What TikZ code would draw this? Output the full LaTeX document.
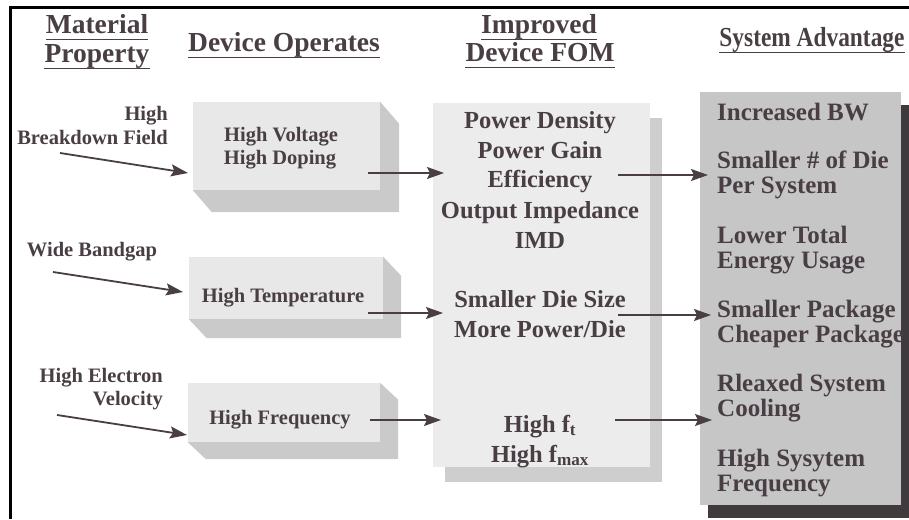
\documentclass[tikz,border=0pt]{standalone}
\usepackage{fontspec}
\setmainfont{Liberation Serif}
\usepackage{graphicx}
\usetikzlibrary{arrows.meta,shadows}
\definecolor{ink}{RGB}{72,62,68}
\definecolor{boxfront}{RGB}{232,232,232}
\definecolor{boxside}{RGB}{202,202,202}
\definecolor{midfront}{RGB}{236,236,236}
\definecolor{midshadow}{RGB}{206,206,206}
\definecolor{rightfront}{RGB}{198,198,198}
\definecolor{rightshadow}{RGB}{62,58,62}
\begin{document}
\begin{tikzpicture}[x=1pt,y=-1pt,
  hdr/.style={inner sep=0pt, anchor=base, text=ink, font=\fontsize{27.5}{30}\selectfont\bfseries},
  lbl/.style={inner sep=0pt, text=ink, font=\fontsize{20.5}{23}\selectfont\bfseries},
  big/.style={inner sep=0pt, text=ink, font=\fontsize{24.5}{28}\selectfont\bfseries},
  rtx/.style={inner sep=0pt, text=ink, anchor=base west, font=\fontsize{25}{28}\selectfont\bfseries},
  uline/.style={draw=ink, line width=1.4pt},
  arr/.style={draw=ink, line width=1.8pt, -{Stealth[length=17pt,width=12pt,inset=3pt]}},
  face/.style={draw=none, inner sep=0pt, fill=boxfront},
  side/.style={fill=boxside},
]
\useasboundingbox (0,0) rectangle (909,519);
% frame
\fill[black] (9,6) rectangle (909,9);
\fill[black] (9,6) rectangle (12,519);

% 3D boxes (left column)
\node[face, minimum width=187pt, minimum height=88pt] (b1) at (286.5,146) {};
\fill[side] (b1.north east) -- ++(19,22) -- ([shift={(19,22)}]b1.south east) -- ([shift={(19,22)}]b1.south west) -- (b1.south west) -- (b1.south east) -- cycle;
\node[face, minimum width=194pt, minimum height=62pt] (b2) at (286,288) {};
\fill[side] (b2.north east) -- ++(18,19) -- ([shift={(18,19)}]b2.south east) -- ([shift={(18,19)}]b2.south west) -- (b2.south west) -- (b2.south east) -- cycle;
\node[face, minimum width=192pt, minimum height=59pt] (b3) at (284,412.5) {};
\fill[side] (b3.north east) -- ++(18,17) -- ([shift={(18,17)}]b3.south east) -- ([shift={(18,17)}]b3.south west) -- (b3.south west) -- (b3.south east) -- cycle;

% middle box
\node[draw=none, inner sep=0pt, fill=midfront, minimum width=217pt, minimum height=364pt,
  general shadow={fill=midshadow, shadow xshift=12pt, shadow yshift=-15pt}] (mid) at (541.5,285) {};
% right box
\node[draw=none, inner sep=0pt, fill=rightfront, minimum width=201pt, minimum height=413pt,
  general shadow={fill=rightshadow, shadow xshift=8pt, shadow yshift=-13pt}] (rgt) at (800.5,298.5) {};

% headers
\node[hdr] (hMat) at (97,34) {Material};
\node[hdr] (hProp) at (97,63) {Property};
\node[hdr] (hDev) at (284,52) {Device Operates};
\node[hdr] (hImp) at (539,34) {Improved};
\node[hdr] (hFom) at (540,62) {Device FOM};
\node[hdr] (hSys) at (812,47) {\scalebox{0.85}[1]{System Advantage}};
\foreach \n in {hMat,hProp,hDev,hImp,hFom,hSys}{
  \draw[uline] ([yshift=-5.5pt]\n.base west) -- ([yshift=-5.5pt]\n.base east);
}

% left labels
\node[lbl, anchor=base east] (lHigh) at (168,120) {High};
\node[lbl, anchor=base east] (lBreak) at (168,144) {Breakdown Field};
\node[lbl, anchor=base] (lWide) at (92,256) {Wide Bandgap};
\node[lbl, anchor=base east] (lElec) at (163,382) {High Electron};
\node[lbl, anchor=base east] (lVel) at (163,405) {Velocity};

% box texts
\node[lbl, anchor=base] (tVolt) at (281,141) {High Voltage};
\node[lbl, anchor=base] (tDop) at (280,164) {High Doping};
\node[lbl, anchor=base] (tTemp) at (283,302) {High Temperature};
\node[lbl, anchor=base] (tFreq) at (280,424) {High Frequency};

% middle texts
\node[big, anchor=base] (m1) at (540,128) {Power Density};
\node[big, anchor=base] (m2) at (540,158) {Power Gain};
\node[big, anchor=base] (m3) at (540,187) {Efficiency};
\node[big, anchor=base] (m4) at (540,218) {Output Impedance};
\node[big, anchor=base] (m5) at (540,248) {IMD};
\node[big, anchor=base] (m6) at (540,307) {Smaller Die Size};
\node[big, anchor=base] (m7) at (540,337) {More Power/Die};
\node[big, anchor=base] (m8) at (540,432) {High f\textsubscript{t}};
\node[big, anchor=base] (m9) at (540,462) {High f\textsubscript{max}};

% right texts
\node[rtx] (r1) at (717,120) {Increased BW};
\node[rtx] (r2) at (717,168) {Smaller \# of Die};
\node[rtx] (r3) at (717,193) {Per System};
\node[rtx] (r4) at (717,243) {Lower Total};
\node[rtx] (r5) at (717,268) {Energy Usage};
\node[rtx] (r6) at (717,317) {Smaller Package};
\node[rtx] (r7) at (717,342) {Cheaper Package};
\node[rtx] (r8) at (717,391) {Rleaxed System};
\node[rtx] (r9) at (717,416) {Cooling};
\node[rtx] (r10) at (717,466) {High Sysytem};
\node[rtx] (r11) at (717,491) {Frequency};

% arrow ends
\coordinate (s1) at (60,153);  \coordinate (e1) at (188,173);
\coordinate (s2) at (53,272);  \coordinate (e2) at (183,292);
\coordinate (s3) at (57,415);  \coordinate (e3) at (187,435);
\coordinate (s4) at (368,173); \coordinate (e4) at (444,173);
\coordinate (s5) at (368,313); \coordinate (e5) at (443,313);
\coordinate (s6) at (370,420); \coordinate (e6) at (441,420);
\coordinate (s7) at (618,175); \coordinate (e7) at (708,175);
\coordinate (s8) at (618,315); \coordinate (e8) at (711,315);
\coordinate (s9) at (615,420); \coordinate (e9) at (712,420);
\foreach \i in {1,...,9}{ \draw[arr] (s\i) -- (e\i); }
\end{tikzpicture}
\end{document}
